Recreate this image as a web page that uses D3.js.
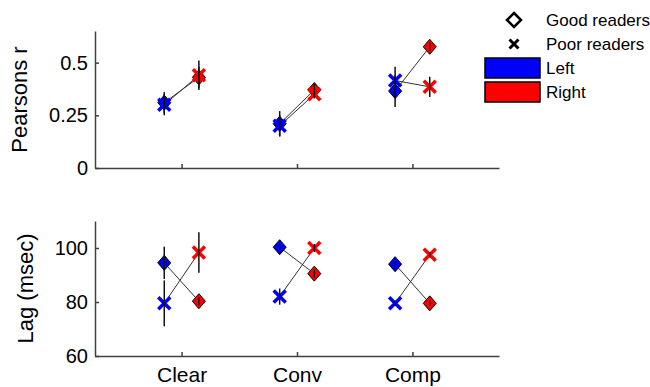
<!doctype html>
<html>
  <head>
    <meta charset="utf-8">
    <title>Pearsons r and lag</title>
    <script src="https://cdnjs.cloudflare.com/ajax/libs/d3/7.8.5/d3.min.js"></script>
    <style>
      body { margin: 0; background: #fff; }
      svg { font-family: "Liberation Sans", Arial, sans-serif; }
    </style>
  </head>
  <body>
    <div id="chart"></div>
    <script>

      // categories and values
      const categories = ['Clear', 'Conv', 'Comp'];

      // top panel: Pearsons r
      const rGoodLeft  = [0.31, 0.21, 0.365];
      const rGoodRight = [0.43, 0.37, 0.575];
      const rPoorLeft  = [0.30, 0.20, 0.415];
      const rPoorRight = [0.44, 0.35, 0.385];
      const rGoodLeftErr  = [0.05, 0.06, 0.075];
      const rGoodRightErr = [0.05, 0.03, 0.02];
      const rPoorLeftErr  = [0.05, 0.05, 0.065];
      const rPoorRightErr = [0.07, 0.02, 0.048];

      // bottom panel: Lag (msec)
      const lagGoodLeft  = [94.5, 100.3, 94];
      const lagGoodRight = [80.3, 90.5, 79.5];
      const lagPoorLeft  = [79.5, 82, 79.5];
      const lagPoorRight = [98.3, 100, 97.5];
      const lagGoodLeftErr  = [6, 1, 1];
      const lagGoodRightErr = [1.5, 1.5, 1];
      const lagPoorLeftErr  = [8.5, 3, 1];
      const lagPoorRightErr = [7.5, 1.5, 1];

      const rTicks = [0, 0.25, 0.5];
      const lagTicks = [60, 80, 100];

      const blue = '#0000ff', red = '#ff0000';
      const axisColor = '#404040';

      const svg = d3.select('#chart')
        .append('svg')
        .attr('width', 650)
        .attr('height', 387);

      const x = d3.scaleLinear().domain([0.25, 3.75]).range([95, 499]);
      const side = 0.15; // left/right offset in category units

      const diamond = 'M0,-7.5L6.5,0L0,7.5L-6.5,0Z';
      const cross = 'M-6,-6L6,6M-6,6L6,-6';

      function panel(y, ticks, fmt, vals, errs, label, labelX, showCats) {
        const g = svg.append('g');

        // connecting lines good->good, poor->poor
        const pairs = [[vals.goodL, vals.goodR], [vals.poorL, vals.poorR]];
        pairs.forEach(([a, b]) => {
          g.selectAll(null)
            .data(categories)
            .join('line')
            .attr('x1', (d, i) => x(i + 1 - side))
            .attr('x2', (d, i) => x(i + 1 + side))
            .attr('y1', (d, i) => y(a[i]))
            .attr('y2', (d, i) => y(b[i]))
            .attr('stroke', '#333')
            .attr('stroke-width', 1);
        });

        const pts = [];
        categories.forEach((c, i) => {
          pts.push({ cx: i + 1 - side, v: vals.goodL[i], e: errs.goodL[i], col: blue, good: true });
          pts.push({ cx: i + 1 + side, v: vals.goodR[i], e: errs.goodR[i], col: red, good: true });
          pts.push({ cx: i + 1 - side, v: vals.poorL[i], e: errs.poorL[i], col: blue, good: false });
          pts.push({ cx: i + 1 + side, v: vals.poorR[i], e: errs.poorR[i], col: red, good: false });
        });

        // markers
        g.selectAll('path.mk')
          .data(pts)
          .join('path')
          .attr('class', 'mk')
          .attr('transform', d => `translate(${x(d.cx)},${y(d.v)})`)
          .attr('d', d => d.good ? diamond : cross)
          .attr('fill', d => d.good ? d.col : 'none')
          .attr('stroke', d => d.good ? '#000' : d.col)
          .attr('stroke-width', d => d.good ? 1 : 3.5);

        // error bars
        g.selectAll('line.err')
          .data(pts)
          .join('line')
          .attr('class', 'err')
          .attr('x1', d => x(d.cx))
          .attr('x2', d => x(d.cx))
          .attr('y1', d => y(d.v - d.e))
          .attr('y2', d => y(d.v + d.e))
          .attr('stroke', '#111')
          .attr('stroke-width', 1.5);

        // axes
        const yAxis = svg.append('g')
          .attr('transform', `translate(${x.range()[0]},0)`)
          .call(d3.axisLeft(y).tickValues(ticks).tickFormat(fmt)
            .tickSizeInner(-4).tickSizeOuter(0).tickPadding(7));
        const xAxis = svg.append('g')
          .attr('transform', `translate(0,${y.range()[0]})`)
          .call(d3.axisBottom(x).tickValues([1, 2, 3])
            .tickFormat((d, i) => showCats ? categories[i] : '')
            .tickSizeInner(-4).tickSizeOuter(0).tickPadding(11));

        [yAxis, xAxis].forEach(a => {
          a.select('.domain').attr('stroke', axisColor).attr('stroke-width', 1.5);
          a.selectAll('.tick line').attr('stroke', axisColor).attr('stroke-width', 1.5);
          a.selectAll('.tick text')
            .attr('fill', '#000')
            .style('font-size', '20px')
            .style('font-family', '"Liberation Sans", Arial, sans-serif');
        });
        xAxis.selectAll('.tick text').style('font-size', '21px');

        const mid = (y.range()[0] + y.range()[1]) / 2;
        svg.append('text')
          .attr('transform', `translate(${labelX},${mid}) rotate(-90)`)
          .attr('text-anchor', 'middle')
          .style('font-size', '22px')
          .text(label);
      }

      const yTop = d3.scaleLinear().domain([0, 0.65]).range([168, 31]);
      panel(yTop, rTicks, d => d === 0 ? '0' : String(d),
        { goodL: rGoodLeft, goodR: rGoodRight, poorL: rPoorLeft, poorR: rPoorRight },
        { goodL: rGoodLeftErr, goodR: rGoodRightErr, poorL: rPoorLeftErr, poorR: rPoorRightErr },
        'Pearsons r', 27, false);

      const yBot = d3.scaleLinear().domain([60, 110]).range([356, 221]);
      panel(yBot, lagTicks, d3.format('d'),
        { goodL: lagGoodLeft, goodR: lagGoodRight, poorL: lagPoorLeft, poorR: lagPoorRight },
        { goodL: lagGoodLeftErr, goodR: lagGoodRightErr, poorL: lagPoorLeftErr, poorR: lagPoorRightErr },
        'Lag (msec)', 33, true);

      // legend
      const legend = svg.append('g');
      const legendItems = [
        { label: 'Good readers', kind: 'diamond' },
        { label: 'Poor readers', kind: 'cross' },
        { label: 'Left', kind: 'box', col: blue },
        { label: 'Right', kind: 'box', col: red }
      ];
      const ly = d3.scalePoint().domain(legendItems.map(d => d.label)).range([20, 92]);

      legendItems.forEach(d => {
        const cy = ly(d.label);
        if (d.kind === 'diamond') {
          legend.append('path')
            .attr('transform', `translate(514,${cy})`)
            .attr('d', 'M0,-7L7,0L0,7L-7,0Z')
            .attr('fill', 'none').attr('stroke', '#000').attr('stroke-width', 2.5);
        } else if (d.kind === 'cross') {
          legend.append('path')
            .attr('transform', `translate(514,${cy})`)
            .attr('d', 'M-4.5,-4.5L4.5,4.5M-4.5,4.5L4.5,-4.5')
            .attr('fill', 'none').attr('stroke', '#000').attr('stroke-width', 3);
        } else {
          legend.append('rect')
            .attr('x', 485).attr('y', cy - 10)
            .attr('width', 55).attr('height', 20)
            .attr('fill', d.col).attr('stroke', '#000').attr('stroke-width', 1.5);
        }
        legend.append('text')
          .attr('x', 546).attr('y', cy)
          .attr('dy', '0.35em')
          .style('font-size', '17px')
          .text(d.label);
      });

    </script>
  </body>
</html>
